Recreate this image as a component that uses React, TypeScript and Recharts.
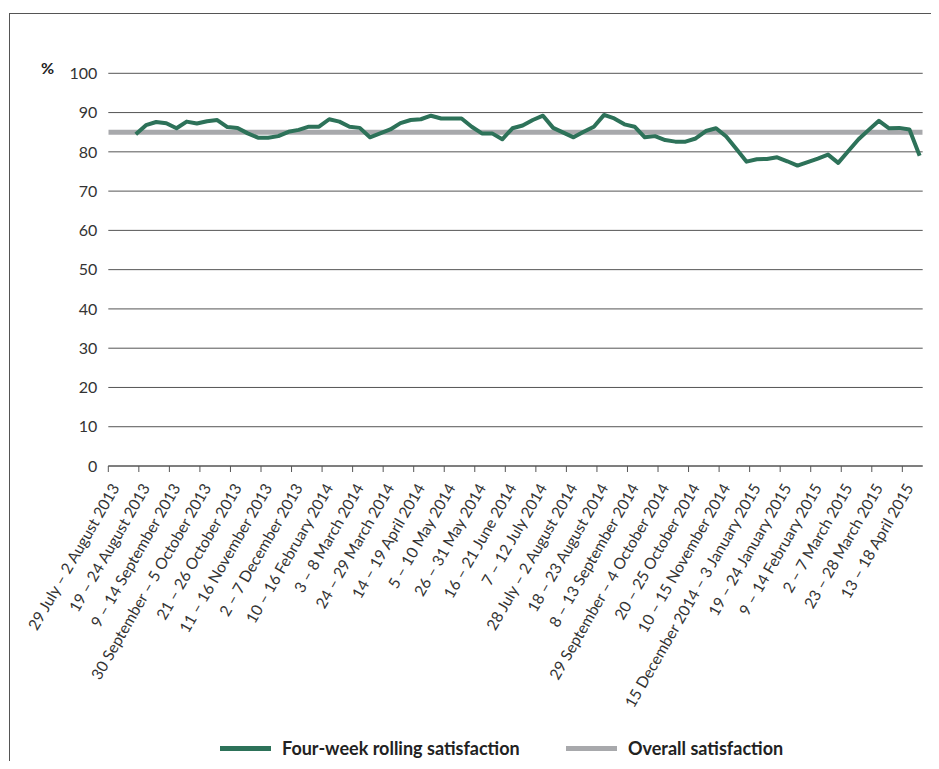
import React from 'react';
import { LineChart, Line, XAxis, YAxis, CartesianGrid } from 'recharts';

// Period labels shown on the x axis (every third period)
const periodLabels: string[] = [
  '29 July – 2 August 2013',
  '19 – 24 August 2013',
  '9 – 14 September 2013',
  '30 September – 5 October 2013',
  '21 – 26 October 2013',
  '11 – 16 November 2013',
  '2 – 7 December 2013',
  '10 – 16 February 2014',
  '3 – 8 March 2014',
  '24 – 29 March 2014',
  '14 – 19 April 2014',
  '5 – 10 May 2014',
  '26 – 31 May 2014',
  '16 – 21 June 2014',
  '7 – 12 July 2014',
  '28 July – 2 August 2014',
  '18 – 23 August 2014',
  '8 – 13 September 2014',
  '29 September – 4 October 2014',
  '20 – 25 October 2014',
  '10 – 15 November 2014',
  '15 December 2014 – 3 January 2015',
  '19 – 24 January 2015',
  '9 – 14 February 2015',
  '2 – 7 March 2015',
  '23 – 28 March 2015',
  '13 – 18 April 2015',
];

const labelEvery = 3;
const periodCount = 80;

// Four-week rolling satisfaction (%), one value per period
const rollingValues: (number | null)[] = [
  null, null, 84.5, 86.8, 87.6, 87.3, 86.0, 87.7, 87.2, 87.8,
  88.1, 86.3, 86.1, 84.7, 83.6, 83.6, 84.0, 85.1, 85.6, 86.4,
  86.4, 88.3, 87.7, 86.4, 86.1, 83.7, 84.7, 85.7, 87.3, 88.1,
  88.3, 89.2, 88.5, 88.5, 88.5, 86.4, 84.7, 84.7, 83.2, 86.0,
  86.7, 88.1, 89.2, 86.1, 84.9, 83.7, 85.1, 86.4, 89.4, 88.5,
  87.0, 86.4, 83.7, 84.0, 83.0, 82.6, 82.6, 83.4, 85.3, 86.0,
  83.9, 80.7, 77.5, 78.1, 78.2, 78.6, 77.6, 76.5, 77.4, 78.3,
  79.3, 77.2, 80.2, 83.2, 85.6, 87.9, 86.0, 86.1, 85.7, 79.0,
];

// Overall satisfaction (%)
const overallValue = 85;

const yTicks = [0, 10, 20, 30, 40, 50, 60, 70, 80, 90, 100];

const pointOffset = 0.7;
const rollingData = rollingValues.map((v, i) => ({ pos: i + pointOffset, rolling: v }));
const overallData = [
  { pos: 0, overall: overallValue },
  { pos: periodCount, overall: overallValue },
];
const xTicks = periodLabels.map((_, k) => k * labelEvery);

const GREEN = '#2D7259';
const GREY = '#A8A9AC';
const FONT = 'Lato, "Open Sans", sans-serif';

const XTick = (props: any) => {
  const { x, y, payload } = props;
  const label = periodLabels[Math.round(payload.value / labelEvery)];
  return (
    <g transform={`translate(${x + 7},${y + 11})`}>
      <text
        textAnchor="end"
        transform="rotate(-60)"
        fontSize={15.6}
        fill="#333"
        fontFamily={FONT}
        dy="0.35em"
      >
        {label}
      </text>
    </g>
  );
};

export default function App() {
  return (
    <div style={{ position: 'relative', width: 931, height: 753, overflow: 'hidden', fontFamily: FONT }}>
      <div
        style={{
          position: 'absolute',
          left: 1,
          top: 5,
          width: 960,
          height: 800,
          borderLeft: '1px solid #555',
          borderTop: '1px solid #555',
        }}
      />
      <div
        style={{
          position: 'absolute',
          left: 33,
          top: 50,
          fontSize: 16,
          fontWeight: 700,
          color: '#222',
          lineHeight: '20px',
        }}
      >
        %
      </div>
      <div style={{ position: 'absolute', left: 0, top: 0 }}>
        <LineChart
          width={931}
          height={720}
          data={rollingData}
          margin={{ top: 65.3, right: 16.3, bottom: 0, left: 0 }}
        >
          <CartesianGrid vertical={false} stroke="#555" strokeWidth={1} />
          <XAxis
            type="number"
            dataKey="pos"
            domain={[0, periodCount]}
            ticks={xTicks}
            interval={0}
            allowDataOverflow
            height={262}
            stroke="#555"
            tickSize={6}
            tickMargin={2}
            tick={<XTick />}
          />
          <YAxis
            type="number"
            domain={[0, 100]}
            ticks={yTicks}
            interval={0}
            width={100.3}
            axisLine={false}
            tickLine={false}
            tickSize={0}
            tickMargin={11}
            tick={{ fontSize: 16, fill: '#333', fontFamily: FONT }}
          />
          <Line
            data={overallData}
            dataKey="overall"
            type="linear"
            stroke={GREY}
            strokeWidth={5}
            dot={false}
            activeDot={false}
            isAnimationActive={false}
          />
          <Line
            dataKey="rolling"
            type="linear"
            stroke={GREEN}
            strokeWidth={4}
            strokeLinejoin="round"
            dot={false}
            activeDot={false}
            isAnimationActive={false}
          />
        </LineChart>
      </div>
      <div
        style={{
          position: 'absolute',
          top: 729,
          left: 0,
          width: 931,
          height: 22,
          fontSize: 18,
          fontWeight: 700,
          color: '#222',
        }}
      >
        <div style={{ position: 'absolute', left: 212, top: 9, width: 51, height: 5, background: GREEN }} />
        <div style={{ position: 'absolute', left: 274, top: 0, lineHeight: '22px', whiteSpace: 'nowrap' }}>
          Four-week rolling satisfaction
        </div>
        <div style={{ position: 'absolute', left: 558, top: 9, width: 51, height: 5, background: GREY }} />
        <div style={{ position: 'absolute', left: 620, top: 0, lineHeight: '22px', whiteSpace: 'nowrap' }}>
          Overall satisfaction
        </div>
      </div>
    </div>
  );
}
